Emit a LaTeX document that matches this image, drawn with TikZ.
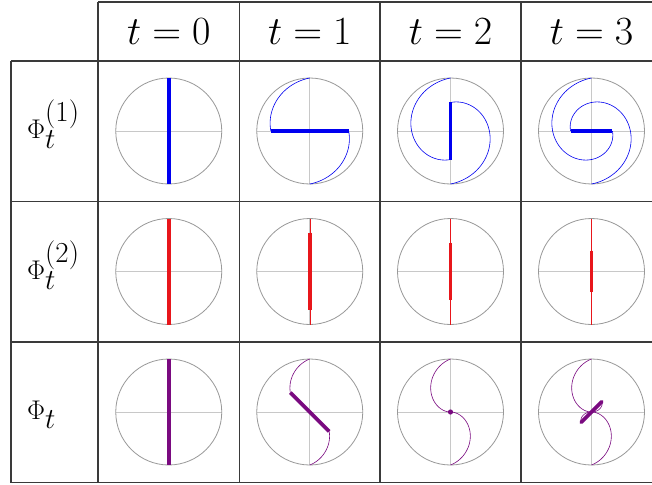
\documentclass[tikz,border=0pt]{standalone}
\usepackage{fix-cm}
\DeclareMathSizes{27}{27}{29}{29}
\DeclareMathSizes{40}{40}{28}{20}
\definecolor{gridc}{HTML}{3A3A3A}
\definecolor{circc}{HTML}{999999}
\definecolor{axisc}{HTML}{C8C8C8}
\definecolor{phione}{HTML}{0000F0}
\definecolor{phitwo}{HTML}{E8161B}
\definecolor{phiboth}{HTML}{7A0A80}
\tikzset{
  gridline/.style={draw=gridc, line width=1.1pt},
  ringline/.style={draw=circc, line width=0.8pt},
  axisline/.style={draw=axisc, line width=0.6pt},
  thickseg/.style={line width=3.6pt},
  trajline/.style={line width=0.6pt},
  headtext/.style={inner sep=0pt, font=\fontsize{40}{44}\selectfont},
  rowtext/.style={inner sep=0pt, anchor=base west, font=\fontsize{27}{30}\selectfont},
}
\newcommand{\Rad}{53}
\newcommand{\kdec}{0.31}
\newcommand{\ringcell}[2]{%
  \begin{scope}[shift={(#1,#2)}, yscale=-1]
    \draw[axisline] (-\Rad,0) -- (\Rad,0);
    \draw[axisline] (0,-\Rad) -- (0,\Rad);
    \draw[ringline] (0,0) circle (\Rad);
  \end{scope}}
\begin{document}
\begin{tikzpicture}[x=1pt,y=-1pt]
\useasboundingbox (0,0) rectangle (652,484);
\fill[white] (0,0) rectangle (652,484);
% circles
\foreach \cx in {168.75,309.75,450.5,591.5}{
  \foreach \cy in {131,271.5,412}{
    \ringcell{\cx}{\cy}
  }
}
% ---------- row 1: Phi^(1) ----------
\begin{scope}[shift={(168.75,131)}, yscale=-1]
  \draw[phione, thickseg] (0,\Rad) -- (0,-\Rad);
\end{scope}
\foreach \cx/\T in {309.75/1,450.5/2,591.5/3}{
  \begin{scope}[shift={(\cx,131)}, yscale=-1]
    \draw[phione, trajline, domain=0:\T, samples=80, variable=\s]
      plot ({\Rad*exp(-\kdec*\s)*(-sin(90*\s))}, {\Rad*exp(-\kdec*\s)*cos(90*\s)});
    \draw[phione, trajline, domain=0:\T, samples=80, variable=\s]
      plot ({\Rad*exp(-\kdec*\s)*(sin(90*\s))}, {-\Rad*exp(-\kdec*\s)*cos(90*\s)});
    \draw[phione, thickseg]
      ({\Rad*exp(-\kdec*\T)*(-sin(90*\T))}, {\Rad*exp(-\kdec*\T)*cos(90*\T)}) --
      ({\Rad*exp(-\kdec*\T)*(sin(90*\T))}, {-\Rad*exp(-\kdec*\T)*cos(90*\T)});
  \end{scope}
}
% ---------- row 2: Phi^(2) ----------
\begin{scope}[shift={(168.75,271.5)}, yscale=-1]
  \draw[phitwo, thickseg] (0,\Rad) -- (0,-\Rad);
\end{scope}
\foreach \cx/\T in {309.75/1,450.5/2,591.5/3}{
  \begin{scope}[shift={(\cx,271.5)}, yscale=-1]
    \draw[phitwo, line width=0.5pt] (0,\Rad) -- (0,-\Rad);
    \draw[phitwo, thickseg] (0,{\Rad*exp(-\kdec*\T)}) -- (0,{-\Rad*exp(-\kdec*\T)});
  \end{scope}
}
% ---------- row 3: Phi ----------
\begin{scope}[shift={(168.75,412)}, yscale=-1]
  \draw[phiboth, thickseg] (0,\Rad) -- (0,-\Rad);
\end{scope}
\foreach \cx/\T in {309.75/1,450.5/2,591.5/3}{
  \begin{scope}[shift={(\cx,412)}, yscale=-1]
    \draw[phiboth, trajline, domain=0:\T, samples=100, variable=\s]
      plot ({0.5*\Rad*exp(-\kdec*\s)*(-sin(90*\s))}, {0.5*\Rad*exp(-\kdec*\s)*(1+cos(90*\s))});
    \draw[phiboth, trajline, domain=0:\T, samples=100, variable=\s]
      plot ({0.5*\Rad*exp(-\kdec*\s)*(sin(90*\s))}, {-0.5*\Rad*exp(-\kdec*\s)*(1+cos(90*\s))});
  \end{scope}
}
\begin{scope}[shift={(309.75,412)}, yscale=-1]
  \draw[phiboth, thickseg]
    ({0.5*\Rad*exp(-\kdec)*(-1)}, {0.5*\Rad*exp(-\kdec)}) --
    ({0.5*\Rad*exp(-\kdec)}, {-0.5*\Rad*exp(-\kdec)});
\end{scope}
\fill[phiboth] (450.5,412) circle (2.6);
\begin{scope}[shift={(591.5,412)}, yscale=-1]
  \draw[phiboth, thickseg, line cap=round]
    ({0.5*\Rad*exp(-3*\kdec)}, {0.5*\Rad*exp(-3*\kdec)}) --
    ({-0.5*\Rad*exp(-3*\kdec)}, {-0.5*\Rad*exp(-3*\kdec)});
\end{scope}
% ---------- grid ----------
\draw[gridline] (98,2) -- (652,2);
\draw[gridline] (11,61) -- (652,61);
\draw[gridline] (11,201.5) -- (652,201.5);
\draw[gridline] (11,342) -- (652,342);
\draw[gridline] (11,482.5) -- (652,482.5);
\draw[gridline] (11,61) -- (11,482.5);
\foreach \gx in {98,239.5,380,521}{
  \draw[gridline] (\gx,2) -- (\gx,482.5);
}
% ---------- texts ----------
\node[headtext] (h0) at (168.75,32) {$t=0$};
\node[headtext] (h1) at (309.75,32) {$t=1$};
\node[headtext] (h2) at (450.5,32) {$t=2$};
\node[headtext] (h3) at (591.5,32) {$t=3$};
\node[rowtext] (r1) at (27,138.5) {$\Phi_t^{(1)}$};
\node[rowtext] (r2) at (27,279) {$\Phi_t^{(2)}$};
\node[rowtext] (r3) at (27,419.5) {$\Phi_t$};
\end{tikzpicture}
\end{document}
